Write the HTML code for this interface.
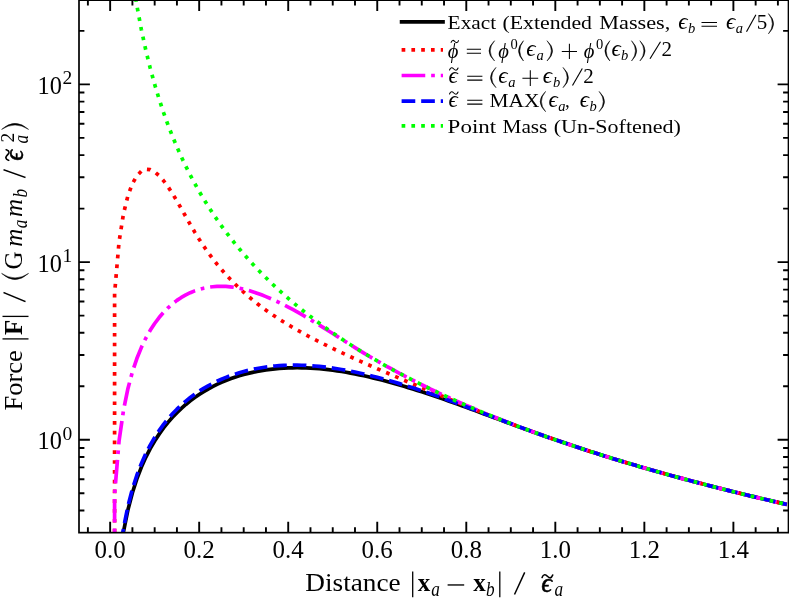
<!DOCTYPE html>
<html><head><meta charset="utf-8"><title>Force softening</title>
<style>
html,body{margin:0;padding:0;background:#fff;}
svg{display:block;}
text{font-family:"Liberation Serif",serif;fill:#000;}
.i{font-style:italic;}
.b{font-weight:bold;}
.h{stroke:#000;stroke-width:0.5px;}
</style></head><body>
<svg width="789" height="599" viewBox="0 0 789 599">
<rect x="0" y="0" width="789" height="599" fill="#ffffff"/>
<defs><clipPath id="ax"><rect x="79.0" y="0.15" width="709.5" height="532.5"/></clipPath></defs>

<g clip-path="url(#ax)" fill="none" stroke-linecap="butt" stroke-linejoin="round">
<path d="M115.89,600.90 L119.05,562.91 L123.51,531.74 L127.96,509.71 L132.41,492.70 L136.86,478.90 L141.31,467.31 L145.76,457.36 L150.22,448.67 L154.67,440.99 L159.12,434.13 L163.57,427.96 L168.02,422.37 L172.47,417.28 L176.93,412.64 L181.38,408.38 L185.83,404.46 L190.28,400.86 L194.73,397.54 L199.18,394.48 L203.64,391.66 L208.09,389.05 L212.54,386.65 L216.99,384.43 L221.44,382.40 L225.89,380.53 L230.35,378.81 L234.80,377.25 L239.25,375.82 L243.70,374.53 L248.15,373.37 L252.60,372.33 L257.06,371.41 L261.51,370.60 L265.96,369.90 L270.41,369.31 L274.86,368.81 L279.31,368.42 L283.77,368.12 L288.22,367.91 L292.67,367.79 L297.12,367.75 L301.57,367.80 L306.02,367.93 L310.48,368.13 L314.93,368.42 L319.38,368.77 L323.83,369.19 L328.28,369.69 L332.74,370.24 L337.19,370.86 L341.64,371.54 L346.09,372.28 L350.54,373.08 L354.99,373.93 L359.45,374.83 L363.90,375.78 L368.35,376.78 L372.80,377.83 L377.25,378.92 L381.70,380.05 L386.16,381.22 L390.61,382.43 L395.06,383.68 L399.51,384.96 L403.96,386.27 L408.41,387.62 L412.87,389.00 L417.32,390.41 L421.77,391.84 L426.22,393.31 L430.67,394.79 L435.12,396.30 L439.58,397.83 L444.03,399.38 L448.48,400.94 L452.93,402.53 L457.38,404.12 L461.83,405.74 L466.29,407.36 L470.74,408.99 L475.19,410.63 L479.64,412.27 L484.09,413.93 L488.54,415.58 L493.00,417.23 L497.45,418.89 L501.90,420.54 L506.35,422.20 L510.80,423.84 L515.25,425.48 L519.71,427.12 L524.16,428.74 L528.61,430.36 L533.06,431.96 L537.51,433.56 L541.96,435.14 L546.42,436.71 L550.87,438.27 L555.32,439.81 L559.77,441.35 L564.22,442.86 L568.68,444.37 L573.13,445.86 L577.58,447.33 L582.03,448.79 L586.48,450.24 L590.93,451.68 L595.39,453.10 L599.84,454.51 L604.29,455.91 L608.74,457.29 L613.19,458.66 L617.64,460.02 L622.10,461.37 L626.55,462.71 L631.00,464.03 L635.45,465.35 L639.90,466.65 L644.35,467.94 L648.81,469.22 L653.26,470.49 L657.71,471.75 L662.16,473.00 L666.61,474.24 L671.06,475.47 L675.52,476.69 L679.97,477.90 L684.42,479.10 L688.87,480.30 L693.32,481.48 L697.77,482.65 L702.23,483.82 L706.68,484.97 L711.13,486.12 L715.58,487.26 L720.03,488.39 L724.48,489.51 L728.94,490.63 L733.39,491.73 L737.84,492.83 L742.29,493.92 L746.74,495.01 L751.19,496.08 L755.65,497.15 L760.10,498.21 L764.55,499.26 L769.00,500.31 L773.45,501.35 L777.90,502.38 L782.36,503.41 L786.81,504.43" stroke="#000000" stroke-width="3.695"/>
<path d="M114.59,600.90 L114.60,293.44 L119.05,241.85 L123.51,213.62 L127.96,195.58 L132.41,183.58 L136.86,175.80 L141.31,171.24 L145.76,169.33 L150.22,169.66 L154.67,171.90 L159.12,175.70 L163.57,180.75 L168.02,186.78 L172.47,193.60 L176.93,200.99 L181.38,208.75 L185.83,216.66 L190.28,224.51 L194.73,232.10 L199.18,239.29 L203.64,246.05 L208.09,252.42 L212.54,258.41 L216.99,264.07 L221.44,269.41 L225.89,274.47 L230.35,279.26 L234.80,283.81 L239.25,288.13 L243.70,292.24 L248.15,296.16 L252.60,299.89 L257.06,303.46 L261.51,306.88 L265.96,310.15 L270.41,313.30 L274.86,316.32 L279.31,319.24 L283.77,322.05 L288.22,324.78 L292.67,327.41 L297.12,329.98 L301.57,332.47 L306.02,334.90 L310.48,337.27 L314.93,339.59 L319.38,341.86 L323.83,344.09 L328.28,346.29 L332.74,348.44 L337.19,350.57 L341.64,352.67 L346.09,354.74 L350.54,356.79 L354.99,358.82 L359.45,360.83 L363.90,362.82 L368.35,364.80 L372.80,366.76 L377.25,368.71 L381.70,370.65 L386.16,372.57 L390.61,374.49 L395.06,376.40 L399.51,378.30 L403.96,380.19 L408.41,382.08 L412.87,383.96 L417.32,385.84 L421.77,387.70 L426.22,389.57 L430.67,391.42 L435.12,393.28 L439.58,395.12 L444.03,396.96 L448.48,398.79 L452.93,400.62 L457.38,402.44 L461.83,404.25 L466.29,406.06 L470.74,407.86 L475.19,409.65 L479.64,411.43 L484.09,413.20 L488.54,414.96 L493.00,416.71 L497.45,418.45 L501.90,420.17 L506.35,421.89 L510.80,423.59 L515.25,425.28 L519.71,426.95 L524.16,428.61 L528.61,430.26 L533.06,431.89 L537.51,433.50 L541.96,435.10 L546.42,436.68 L550.87,438.25 L555.32,439.80 L559.77,441.34 L564.22,442.86 L568.68,444.36 L573.13,445.85 L577.58,447.33 L582.03,448.79 L586.48,450.24 L590.93,451.68 L595.39,453.10 L599.84,454.51 L604.29,455.91 L608.74,457.29 L613.19,458.66 L617.64,460.02 L622.10,461.37 L626.55,462.71 L631.00,464.03 L635.45,465.35 L639.90,466.65 L644.35,467.94 L648.81,469.22 L653.26,470.49 L657.71,471.75 L662.16,473.00 L666.61,474.24 L671.06,475.47 L675.52,476.69 L679.97,477.90 L684.42,479.10 L688.87,480.30 L693.32,481.48 L697.77,482.65 L702.23,483.82 L706.68,484.97 L711.13,486.12 L715.58,487.26 L720.03,488.39 L724.48,489.51 L728.94,490.63 L733.39,491.73 L737.84,492.83 L742.29,493.92 L746.74,495.01 L751.19,496.08 L755.65,497.15 L760.10,498.21 L764.55,499.26 L769.00,500.31 L773.45,501.35 L777.90,502.38 L782.36,503.41 L786.81,504.43" stroke="#ff0000" stroke-width="3.695" stroke-dasharray="3.69,6.10" stroke-dashoffset="0"/>
<path d="M114.60,600.90 L114.60,494.33 L119.05,441.06 L123.51,410.14 L127.96,388.44 L132.41,371.86 L136.86,358.56 L141.31,347.57 L145.76,338.29 L150.22,330.36 L154.67,323.50 L159.12,317.54 L163.57,312.35 L168.02,307.81 L172.47,303.85 L176.93,300.40 L181.38,297.41 L185.83,294.85 L190.28,292.67 L194.73,290.86 L199.18,289.37 L203.64,288.20 L208.09,287.32 L212.54,286.72 L216.99,286.38 L221.44,286.29 L225.89,286.45 L230.35,286.83 L234.80,287.43 L239.25,288.23 L243.70,289.22 L248.15,290.39 L252.60,291.72 L257.06,293.21 L261.51,294.84 L265.96,296.60 L270.41,298.48 L274.86,300.48 L279.31,302.59 L283.77,304.79 L288.22,307.09 L292.67,309.47 L297.12,311.93 L301.57,314.46 L306.02,317.06 L310.48,319.71 L314.93,322.41 L319.38,325.15 L323.83,327.92 L328.28,330.72 L332.74,333.53 L337.19,336.36 L341.64,339.18 L346.09,342.00 L350.54,344.80 L354.99,347.58 L359.45,350.33 L363.90,353.05 L368.35,355.72 L372.80,358.36 L377.25,360.95 L381.70,363.51 L386.16,366.02 L390.61,368.49 L395.06,370.92 L399.51,373.31 L403.96,375.67 L408.41,377.99 L412.87,380.27 L417.32,382.53 L421.77,384.75 L426.22,386.94 L430.67,389.10 L435.12,391.22 L439.58,393.32 L444.03,395.40 L448.48,397.44 L452.93,399.46 L457.38,401.45 L461.83,403.42 L466.29,405.36 L470.74,407.28 L475.19,409.17 L479.64,411.04 L484.09,412.89 L488.54,414.72 L493.00,416.52 L497.45,418.31 L501.90,420.07 L506.35,421.81 L510.80,423.54 L515.25,425.24 L519.71,426.93 L524.16,428.60 L528.61,430.25 L533.06,431.88 L537.51,433.50 L541.96,435.10 L546.42,436.68 L550.87,438.25 L555.32,439.80 L559.77,441.34 L564.22,442.86 L568.68,444.36 L573.13,445.85 L577.58,447.33 L582.03,448.79 L586.48,450.24 L590.93,451.68 L595.39,453.10 L599.84,454.51 L604.29,455.91 L608.74,457.29 L613.19,458.66 L617.64,460.02 L622.10,461.37 L626.55,462.71 L631.00,464.03 L635.45,465.35 L639.90,466.65 L644.35,467.94 L648.81,469.22 L653.26,470.49 L657.71,471.75 L662.16,473.00 L666.61,474.24 L671.06,475.47 L675.52,476.69 L679.97,477.90 L684.42,479.10 L688.87,480.30 L693.32,481.48 L697.77,482.65 L702.23,483.82 L706.68,484.97 L711.13,486.12 L715.58,487.26 L720.03,488.39 L724.48,489.51 L728.94,490.63 L733.39,491.73 L737.84,492.83 L742.29,493.92 L746.74,495.01 L751.19,496.08 L755.65,497.15 L760.10,498.21 L764.55,499.26 L769.00,500.31 L773.45,501.35 L777.90,502.38 L782.36,503.41 L786.81,504.43" stroke="#ff00ff" stroke-width="3.695" stroke-dasharray="23.65,5.91,3.69,5.91" stroke-dashoffset="0"/>
<path d="M115.57,600.90 L119.05,559.14 L123.51,527.98 L127.96,505.96 L132.41,488.98 L136.86,475.20 L141.31,463.64 L145.76,453.72 L150.22,445.06 L154.67,437.41 L159.12,430.58 L163.57,424.44 L168.02,418.88 L172.47,413.82 L176.93,409.20 L181.38,404.97 L185.83,401.09 L190.28,397.52 L194.73,394.22 L199.18,391.19 L203.64,388.40 L208.09,385.82 L212.54,383.44 L216.99,381.25 L221.44,379.24 L225.89,377.40 L230.35,375.71 L234.80,374.18 L239.25,372.78 L243.70,371.52 L248.15,370.39 L252.60,369.38 L257.06,368.49 L261.51,367.71 L265.96,367.04 L270.41,366.48 L274.86,366.02 L279.31,365.66 L283.77,365.40 L288.22,365.22 L292.67,365.14 L297.12,365.15 L301.57,365.24 L306.02,365.42 L310.48,365.67 L314.93,366.01 L319.38,366.42 L323.83,366.90 L328.28,367.45 L332.74,368.06 L337.19,368.75 L341.64,369.49 L346.09,370.29 L350.54,371.14 L354.99,372.05 L359.45,373.01 L363.90,374.02 L368.35,375.08 L372.80,376.18 L377.25,377.33 L381.70,378.51 L386.16,379.74 L390.61,381.00 L395.06,382.30 L399.51,383.64 L403.96,385.00 L408.41,386.40 L412.87,387.83 L417.32,389.29 L421.77,390.78 L426.22,392.29 L430.67,393.82 L435.12,395.38 L439.58,396.96 L444.03,398.56 L448.48,400.17 L452.93,401.80 L457.38,403.44 L461.83,405.10 L466.29,406.77 L470.74,408.44 L475.19,410.13 L479.64,411.81 L484.09,413.51 L488.54,415.20 L493.00,416.90 L497.45,418.59 L501.90,420.28 L506.35,421.96 L510.80,423.64 L515.25,425.31 L519.71,426.97 L524.16,428.63 L528.61,430.26 L533.06,431.89 L537.51,433.50 L541.96,435.10 L546.42,436.68 L550.87,438.25 L555.32,439.80 L559.77,441.34 L564.22,442.86 L568.68,444.36 L573.13,445.85 L577.58,447.33 L582.03,448.79 L586.48,450.24 L590.93,451.68 L595.39,453.10 L599.84,454.51 L604.29,455.91 L608.74,457.29 L613.19,458.66 L617.64,460.02 L622.10,461.37 L626.55,462.71 L631.00,464.03 L635.45,465.35 L639.90,466.65 L644.35,467.94 L648.81,469.22 L653.26,470.49 L657.71,471.75 L662.16,473.00 L666.61,474.24 L671.06,475.47 L675.52,476.69 L679.97,477.90 L684.42,479.10 L688.87,480.30 L693.32,481.48 L697.77,482.65 L702.23,483.82 L706.68,484.97 L711.13,486.12 L715.58,487.26 L720.03,488.39 L724.48,489.51 L728.94,490.63 L733.39,491.73 L737.84,492.83 L742.29,493.92 L746.74,495.01 L751.19,496.08 L755.65,497.15 L760.10,498.21 L764.55,499.26 L769.00,500.31 L773.45,501.35 L777.90,502.38 L782.36,503.41 L786.81,504.43" stroke="#0000ff" stroke-width="3.695" stroke-dasharray="13.67,5.91" stroke-dashoffset="0"/>
<path d="M135.68,-1.90 L136.86,5.55 L141.31,29.35 L145.76,49.96 L150.22,68.14 L154.67,84.40 L159.12,99.11 L163.57,112.54 L168.02,124.90 L172.47,136.33 L176.93,146.98 L181.38,156.94 L185.83,166.30 L190.28,175.12 L194.73,183.47 L199.18,191.39 L203.64,198.92 L208.09,206.10 L212.54,212.96 L216.99,219.53 L221.44,225.83 L225.89,231.88 L230.35,237.71 L234.80,243.32 L239.25,248.74 L243.70,253.97 L248.15,259.03 L252.60,263.93 L257.06,268.68 L261.51,273.29 L265.96,277.76 L270.41,282.11 L274.86,286.34 L279.31,290.46 L283.77,294.46 L288.22,298.37 L292.67,302.18 L297.12,305.90 L301.57,309.53 L306.02,313.08 L310.48,316.55 L314.93,319.94 L319.38,323.26 L323.83,326.51 L328.28,329.70 L332.74,332.81 L337.19,335.87 L341.64,338.87 L346.09,341.81 L350.54,344.69 L354.99,347.52 L359.45,350.31 L363.90,353.04 L368.35,355.72 L372.80,358.36 L377.25,360.95 L381.70,363.51 L386.16,366.02 L390.61,368.49 L395.06,370.92 L399.51,373.31 L403.96,375.67 L408.41,377.99 L412.87,380.27 L417.32,382.53 L421.77,384.75 L426.22,386.94 L430.67,389.10 L435.12,391.22 L439.58,393.32 L444.03,395.40 L448.48,397.44 L452.93,399.46 L457.38,401.45 L461.83,403.42 L466.29,405.36 L470.74,407.28 L475.19,409.17 L479.64,411.04 L484.09,412.89 L488.54,414.72 L493.00,416.52 L497.45,418.31 L501.90,420.07 L506.35,421.81 L510.80,423.54 L515.25,425.24 L519.71,426.93 L524.16,428.60 L528.61,430.25 L533.06,431.88 L537.51,433.50 L541.96,435.10 L546.42,436.68 L550.87,438.25 L555.32,439.80 L559.77,441.34 L564.22,442.86 L568.68,444.36 L573.13,445.85 L577.58,447.33 L582.03,448.79 L586.48,450.24 L590.93,451.68 L595.39,453.10 L599.84,454.51 L604.29,455.91 L608.74,457.29 L613.19,458.66 L617.64,460.02 L622.10,461.37 L626.55,462.71 L631.00,464.03 L635.45,465.35 L639.90,466.65 L644.35,467.94 L648.81,469.22 L653.26,470.49 L657.71,471.75 L662.16,473.00 L666.61,474.24 L671.06,475.47 L675.52,476.69 L679.97,477.90 L684.42,479.10 L688.87,480.30 L693.32,481.48 L697.77,482.65 L702.23,483.82 L706.68,484.97 L711.13,486.12 L715.58,487.26 L720.03,488.39 L724.48,489.51 L728.94,490.63 L733.39,491.73 L737.84,492.83 L742.29,493.92 L746.74,495.01 L751.19,496.08 L755.65,497.15 L760.10,498.21 L764.55,499.26 L769.00,500.31 L773.45,501.35 L777.90,502.38 L782.36,503.41 L786.81,504.43" stroke="#00ff00" stroke-width="3.695" stroke-dasharray="3.69,6.10" stroke-dashoffset="0"/>
</g>
<path d="M87.89,532.65 v-5.4 M87.89,0.15 v5.4 M110.15,532.65 v-10.9 M110.15,0.15 v10.9 M132.41,532.65 v-5.4 M132.41,0.15 v5.4 M154.67,532.65 v-5.4 M154.67,0.15 v5.4 M176.93,532.65 v-5.4 M176.93,0.15 v5.4 M199.18,532.65 v-10.9 M199.18,0.15 v10.9 M221.44,532.65 v-5.4 M221.44,0.15 v5.4 M243.70,532.65 v-5.4 M243.70,0.15 v5.4 M265.96,532.65 v-5.4 M265.96,0.15 v5.4 M288.22,532.65 v-10.9 M288.22,0.15 v10.9 M310.48,532.65 v-5.4 M310.48,0.15 v5.4 M332.74,532.65 v-5.4 M332.74,0.15 v5.4 M354.99,532.65 v-5.4 M354.99,0.15 v5.4 M377.25,532.65 v-10.9 M377.25,0.15 v10.9 M399.51,532.65 v-5.4 M399.51,0.15 v5.4 M421.77,532.65 v-5.4 M421.77,0.15 v5.4 M444.03,532.65 v-5.4 M444.03,0.15 v5.4 M466.29,532.65 v-10.9 M466.29,0.15 v10.9 M488.54,532.65 v-5.4 M488.54,0.15 v5.4 M510.80,532.65 v-5.4 M510.80,0.15 v5.4 M533.06,532.65 v-5.4 M533.06,0.15 v5.4 M555.32,532.65 v-10.9 M555.32,0.15 v10.9 M577.58,532.65 v-5.4 M577.58,0.15 v5.4 M599.84,532.65 v-5.4 M599.84,0.15 v5.4 M622.10,532.65 v-5.4 M622.10,0.15 v5.4 M644.35,532.65 v-10.9 M644.35,0.15 v10.9 M666.61,532.65 v-5.4 M666.61,0.15 v5.4 M688.87,532.65 v-5.4 M688.87,0.15 v5.4 M711.13,532.65 v-5.4 M711.13,0.15 v5.4 M733.39,532.65 v-10.9 M733.39,0.15 v10.9 M755.65,532.65 v-5.4 M755.65,0.15 v5.4 M777.90,532.65 v-5.4 M777.90,0.15 v5.4 M79.0,510.51 h5.4 M788.5,510.51 h-5.4 M79.0,493.29 h5.4 M788.5,493.29 h-5.4 M79.0,479.22 h5.4 M788.5,479.22 h-5.4 M79.0,467.33 h5.4 M788.5,467.33 h-5.4 M79.0,457.02 h5.4 M788.5,457.02 h-5.4 M79.0,447.93 h5.4 M788.5,447.93 h-5.4 M79.0,439.80 h10.9 M788.5,439.80 h-10.9 M79.0,386.31 h5.4 M788.5,386.31 h-5.4 M79.0,355.02 h5.4 M788.5,355.02 h-5.4 M79.0,332.81 h5.4 M788.5,332.81 h-5.4 M79.0,315.59 h5.4 M788.5,315.59 h-5.4 M79.0,301.52 h5.4 M788.5,301.52 h-5.4 M79.0,289.63 h5.4 M788.5,289.63 h-5.4 M79.0,279.32 h5.4 M788.5,279.32 h-5.4 M79.0,270.23 h5.4 M788.5,270.23 h-5.4 M79.0,262.10 h10.9 M788.5,262.10 h-10.9 M79.0,208.61 h5.4 M788.5,208.61 h-5.4 M79.0,177.32 h5.4 M788.5,177.32 h-5.4 M79.0,155.11 h5.4 M788.5,155.11 h-5.4 M79.0,137.89 h5.4 M788.5,137.89 h-5.4 M79.0,123.82 h5.4 M788.5,123.82 h-5.4 M79.0,111.93 h5.4 M788.5,111.93 h-5.4 M79.0,101.62 h5.4 M788.5,101.62 h-5.4 M79.0,92.53 h5.4 M788.5,92.53 h-5.4 M79.0,84.40 h10.9 M788.5,84.40 h-10.9 M79.0,30.91 h5.4 M788.5,30.91 h-5.4" stroke="#000" stroke-width="1.9" fill="none"/>
<rect x="79.0" y="0.15" width="709.5" height="532.5" fill="none" stroke="#000" stroke-width="1.7"/>
<path d="M401.6,21.8 H443.0" stroke="#000000" stroke-width="3.695" stroke-linecap="square" fill="none"/>
<path d="M401.6,49.8 H443.0" stroke="#ff0000" stroke-width="3.695" stroke-linecap="butt" fill="none" stroke-dasharray="3.69,6.10"/>
<path d="M401.6,75.5 H443.0" stroke="#ff00ff" stroke-width="3.695" stroke-linecap="butt" fill="none" stroke-dasharray="23.65,5.91,3.69,5.91"/>
<path d="M401.6,101.2 H443.0" stroke="#0000ff" stroke-width="3.695" stroke-linecap="butt" fill="none" stroke-dasharray="13.67,5.91"/>
<path d="M401.6,125.8 H443.0" stroke="#00ff00" stroke-width="3.695" stroke-linecap="butt" fill="none" stroke-dasharray="3.69,6.10"/>
<g style="opacity:0.999">
<text x="94.6" y="558.2" font-size="26" textLength="31.2" lengthAdjust="spacingAndGlyphs">0.0</text>
<text x="183.6" y="558.2" font-size="26" textLength="31.2" lengthAdjust="spacingAndGlyphs">0.2</text>
<text x="272.6" y="558.2" font-size="26" textLength="31.2" lengthAdjust="spacingAndGlyphs">0.4</text>
<text x="361.6" y="558.2" font-size="26" textLength="31.2" lengthAdjust="spacingAndGlyphs">0.6</text>
<text x="450.7" y="558.2" font-size="26" textLength="31.2" lengthAdjust="spacingAndGlyphs">0.8</text>
<text x="539.7" y="558.2" font-size="26" textLength="31.2" lengthAdjust="spacingAndGlyphs">1.0</text>
<text x="628.7" y="558.2" font-size="26" textLength="31.2" lengthAdjust="spacingAndGlyphs">1.2</text>
<text x="717.8" y="558.2" font-size="26" textLength="31.2" lengthAdjust="spacingAndGlyphs">1.4</text>
<text x="37.6" y="93.9" font-size="26" textLength="24.3" lengthAdjust="spacingAndGlyphs">10</text>
<text x="67.3" y="84.3" font-size="19.5" text-anchor="middle">2</text>
<text x="37.6" y="271.6" font-size="26" textLength="24.3" lengthAdjust="spacingAndGlyphs">10</text>
<text x="67.3" y="262.0" font-size="19.5" text-anchor="middle">1</text>
<text x="37.6" y="449.3" font-size="26" textLength="24.3" lengthAdjust="spacingAndGlyphs">10</text>
<text x="67.3" y="439.7" font-size="19.5" text-anchor="middle">0</text>
<text x="447.6" y="29.0" font-size="19.0" textLength="48.6" lengthAdjust="spacingAndGlyphs">Exact</text>
<text x="502.5" y="29.0" font-size="19.0" textLength="89.5" lengthAdjust="spacingAndGlyphs">(Extended</text>
<text x="599.3" y="29.0" font-size="19.0" textLength="71.0" lengthAdjust="spacingAndGlyphs">Masses,</text>
<text x="683.0" y="29.0" font-size="23" class="i" text-anchor="middle">ϵ</text>
<text x="691.7" y="33.0" font-size="14.5" class="i" text-anchor="middle">b</text>
<path d="M701.5,22.40 H717.0 M701.5,26.30 H717.0" stroke="#000" stroke-width="1.05" fill="none"/>
<text x="730.6" y="29.0" font-size="23" class="i" text-anchor="middle">ϵ</text>
<text x="739.3" y="33.0" font-size="14.5" class="i" text-anchor="middle">a</text>
<path d="M746.5,31.70 L755.9,14.70" stroke="#000" stroke-width="1.15" fill="none"/>
<text x="762.0" y="29.3" font-size="21" text-anchor="middle">5</text>
<path d="M768.40,13.60 Q778.80,23.75 768.40,33.90 Q776.30,23.75 768.40,13.60 Z" fill="#000" stroke="#000" stroke-width="0.5" stroke-linejoin="round"/>
<text x="453.1" y="57.5" font-size="20.5" class="i" text-anchor="middle">ϕ</text>
<path d="M451.10,42.35 C451.99,39.71 453.54,40.14 454.80,41.50 S457.61,43.29 458.50,40.65" stroke="#000" stroke-width="1.1" fill="none" stroke-linecap="round"/>
<path d="M466.8,49.30 H481.0 M466.8,53.20 H481.0" stroke="#000" stroke-width="1.05" fill="none"/>
<path d="M494.60,40.70 Q483.40,50.85 494.60,61.00 Q485.90,50.85 494.60,40.70 Z" fill="#000" stroke="#000" stroke-width="0.5" stroke-linejoin="round"/>
<text x="503.6" y="57.5" font-size="20.5" class="i" text-anchor="middle">ϕ</text>
<text x="514.0" y="49.1" font-size="14.5" text-anchor="middle">0</text>
<path d="M523.50,40.70 Q513.50,50.85 523.50,61.00 Q516.00,50.85 523.50,40.70 Z" fill="#000" stroke="#000" stroke-width="0.5" stroke-linejoin="round"/>
<text x="530.8" y="56.1" font-size="23" class="i" text-anchor="middle">ϵ</text>
<text x="540.2" y="60.1" font-size="14.5" class="i" text-anchor="middle">a</text>
<path d="M547.00,40.70 Q558.20,50.85 547.00,61.00 Q555.70,50.85 547.00,40.70 Z" fill="#000" stroke="#000" stroke-width="0.5" stroke-linejoin="round"/>
<path d="M561.8,51.45 H577.0 M569.40,43.85 V59.05" stroke="#000" stroke-width="1.05" fill="none"/>
<text x="589.0" y="57.5" font-size="20.5" class="i" text-anchor="middle">ϕ</text>
<text x="599.7" y="49.1" font-size="14.5" text-anchor="middle">0</text>
<path d="M609.90,40.70 Q599.90,50.85 609.90,61.00 Q602.40,50.85 609.90,40.70 Z" fill="#000" stroke="#000" stroke-width="0.5" stroke-linejoin="round"/>
<text x="616.2" y="56.1" font-size="23" class="i" text-anchor="middle">ϵ</text>
<text x="624.7" y="60.1" font-size="14.5" class="i" text-anchor="middle">b</text>
<path d="M631.50,40.70 Q641.90,50.85 631.50,61.00 Q639.40,50.85 631.50,40.70 Z" fill="#000" stroke="#000" stroke-width="0.5" stroke-linejoin="round"/>
<path d="M639.90,40.70 Q650.30,50.85 639.90,61.00 Q647.80,50.85 639.90,40.70 Z" fill="#000" stroke="#000" stroke-width="0.5" stroke-linejoin="round"/>
<path d="M650.0,58.80 L660.5,41.80" stroke="#000" stroke-width="1.15" fill="none"/>
<text x="666.8" y="56.4" font-size="21" text-anchor="middle">2</text>
<text x="453.1" y="82.8" font-size="23" class="i" text-anchor="middle">ϵ</text>
<path d="M449.55,69.98 C450.57,66.95 452.36,67.44 453.80,69.00 S457.03,71.05 458.05,68.02" stroke="#000" stroke-width="1.1" fill="none" stroke-linecap="round"/>
<path d="M467.2,76.20 H482.4 M467.2,80.10 H482.4" stroke="#000" stroke-width="1.05" fill="none"/>
<path d="M496.00,67.40 Q485.00,77.55 496.00,87.70 Q487.50,77.55 496.00,67.40 Z" fill="#000" stroke="#000" stroke-width="0.5" stroke-linejoin="round"/>
<text x="502.9" y="82.8" font-size="23" class="i" text-anchor="middle">ϵ</text>
<text x="511.8" y="86.8" font-size="14.5" class="i" text-anchor="middle">a</text>
<path d="M522.4,78.15 H538.2 M530.30,70.25 V86.05" stroke="#000" stroke-width="1.05" fill="none"/>
<text x="547.3" y="82.8" font-size="23" class="i" text-anchor="middle">ϵ</text>
<text x="556.5" y="86.8" font-size="14.5" class="i" text-anchor="middle">b</text>
<path d="M563.00,67.40 Q573.80,77.55 563.00,87.70 Q571.30,77.55 563.00,67.40 Z" fill="#000" stroke="#000" stroke-width="0.5" stroke-linejoin="round"/>
<path d="M572.5,85.50 L582.3,68.50" stroke="#000" stroke-width="1.15" fill="none"/>
<text x="588.5" y="83.1" font-size="21" text-anchor="middle">2</text>
<text x="453.1" y="106.8" font-size="23" class="i" text-anchor="middle">ϵ</text>
<path d="M449.55,93.98 C450.57,90.95 452.36,91.44 453.80,93.00 S457.03,95.05 458.05,92.02" stroke="#000" stroke-width="1.1" fill="none" stroke-linecap="round"/>
<path d="M467.2,100.20 H482.4 M467.2,104.10 H482.4" stroke="#000" stroke-width="1.05" fill="none"/>
<text x="489.5" y="106.8" font-size="19.0" textLength="49.9" lengthAdjust="spacingAndGlyphs">MAX</text>
<path d="M545.60,91.40 Q534.80,101.55 545.60,111.70 Q537.30,101.55 545.60,91.40 Z" fill="#000" stroke="#000" stroke-width="0.5" stroke-linejoin="round"/>
<text x="553.1" y="106.8" font-size="23" class="i" text-anchor="middle">ϵ</text>
<text x="561.8" y="110.8" font-size="14.5" class="i" text-anchor="middle">a</text>
<text x="567.3" y="106.8" font-size="19.0" text-anchor="middle">,</text>
<text x="584.3" y="106.8" font-size="23" class="i" text-anchor="middle">ϵ</text>
<text x="593.1" y="110.8" font-size="14.5" class="i" text-anchor="middle">b</text>
<path d="M599.10,91.40 Q609.90,101.55 599.10,111.70 Q607.40,101.55 599.10,91.40 Z" fill="#000" stroke="#000" stroke-width="0.5" stroke-linejoin="round"/>
<text x="447.6" y="132.6" font-size="19.0" textLength="48.6" lengthAdjust="spacingAndGlyphs">Point</text>
<text x="502.5" y="132.6" font-size="19.0" textLength="44.9" lengthAdjust="spacingAndGlyphs">Mass</text>
<text x="553.8" y="132.6" font-size="19.0" textLength="127.1" lengthAdjust="spacingAndGlyphs">(Un-Softened)</text>
<text x="305.3" y="591.0" font-size="25" textLength="95.4" lengthAdjust="spacingAndGlyphs">Distance</text>
<path d="M412.7,571.4 V597.2 M499.8,571.4 V597.2" stroke="#000" stroke-width="1.3"/>
<text x="424.1" y="591.0" font-size="25" class="b" text-anchor="middle">x</text>
<text transform="translate(435.5,595.8) scale(0.82,1)" font-size="21" class="i" text-anchor="middle">a</text>
<path d="M447.6,584.96 H464.2" stroke="#000" stroke-width="1.37" fill="none"/>
<text x="479.5" y="591.0" font-size="25" class="b" text-anchor="middle">x</text>
<text transform="translate(490.4,595.8) scale(0.82,1)" font-size="21" class="i" text-anchor="middle">b</text>
<path d="M514.5,594.51 L524.7,572.41" stroke="#000" stroke-width="1.49" fill="none"/>
<text x="546.5" y="592.4" font-size="26.5" class="i h" text-anchor="middle">ϵ</text>
<path d="M542.10,577.52 C543.37,573.74 545.60,574.35 547.40,576.30 S551.43,578.86 552.70,575.08" stroke="#000" stroke-width="1.6" fill="none" stroke-linecap="round"/>
<text transform="translate(558.9,595.8) scale(0.82,1)" font-size="21" class="i" text-anchor="middle">a</text>
<g transform="translate(22,0) rotate(-90)">
<text x="-410.6" y="0.0" font-size="25" textLength="60.4" lengthAdjust="spacingAndGlyphs">Force</text>
<path d="M-338.9,-19.6 V6.4 M-316.4,-19.6 V6.4" stroke="#000" stroke-width="1.3"/>
<text x="-327.3" y="0.0" font-size="25" class="b" text-anchor="middle">F</text>
<path d="M-301.6,3.51 L-292.5,-18.59" stroke="#000" stroke-width="1.49" fill="none"/>
<path d="M-273.40,-20.40 Q-285.80,-6.90 -273.40,6.60 Q-282.40,-6.90 -273.40,-20.40 Z" fill="#000" stroke="#000" stroke-width="0.5" stroke-linejoin="round"/>
<text x="-260.4" y="0.0" font-size="25" text-anchor="middle">G</text>
<text x="-237.7" y="0.0" font-size="25" class="i" text-anchor="middle">m</text>
<text transform="translate(-223.9,4.8) scale(0.82,1)" font-size="21" class="i" text-anchor="middle">a</text>
<text x="-207.9" y="0.0" font-size="25" class="i" text-anchor="middle">m</text>
<text transform="translate(-193.3,4.8) scale(0.82,1)" font-size="21" class="i" text-anchor="middle">b</text>
<path d="M-177.5,3.51 L-169.7,-18.59" stroke="#000" stroke-width="1.49" fill="none"/>
<text x="-155.3" y="1.4" font-size="26.5" class="i h" text-anchor="middle">ϵ</text>
<text transform="translate(-139.3,6.4) scale(0.82,1)" font-size="21" class="i" text-anchor="middle">a</text>
<text x="-137.7" y="-8.0" font-size="19.5" text-anchor="middle">2</text>
<path d="M-129.40,-20.40 Q-117.20,-6.90 -129.40,6.60 Q-120.60,-6.90 -129.40,-20.40 Z" fill="#000" stroke="#000" stroke-width="0.5" stroke-linejoin="round"/>
<path d="M-160.30,-13.38 C-159.03,-17.16 -156.80,-16.55 -155.00,-14.60 S-150.97,-12.04 -149.70,-15.82" stroke="#000" stroke-width="1.6" fill="none" stroke-linecap="round"/>
</g>
</g>
</svg></body></html>
